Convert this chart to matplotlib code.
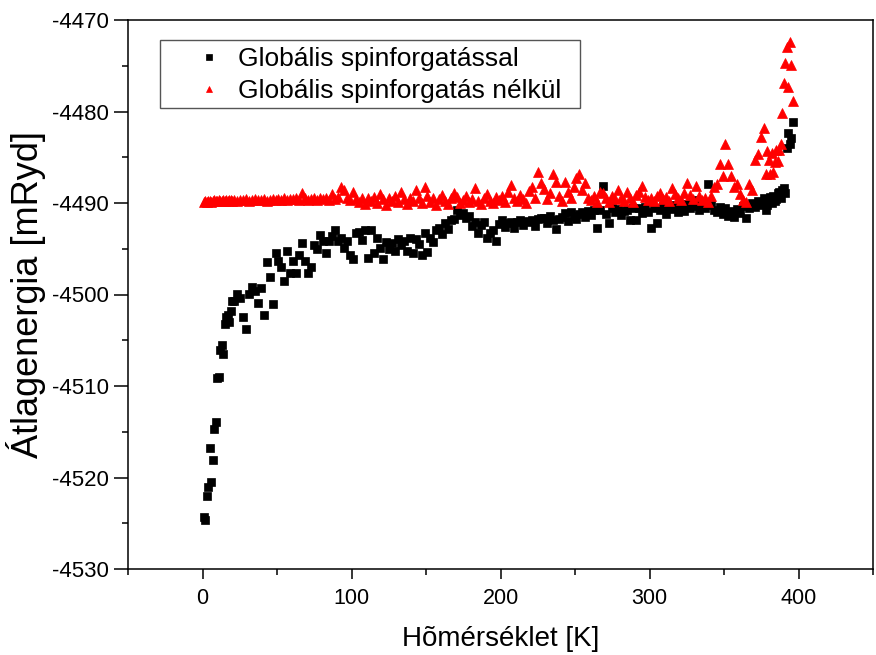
import matplotlib
matplotlib.use("Agg")
import matplotlib.pyplot as plt
from matplotlib.ticker import MultipleLocator
from matplotlib.patches import Rectangle

plt.rcParams['font.family'] = ['Liberation Sans', 'DejaVu Sans']
plt.rcParams['axes.unicode_minus'] = False

# hőmérséklet rácsok: sűrűbb a két szélen
temps_black = list(range(1, 21)) + list(range(21, 378, 2)) + list(range(378, 397))
temps_red = list(range(1, 21)) + list(range(21, 378, 2)) + list(range(378, 397))

e_black = [
    # 1..20
    -4524.3, -4524.6, -4522.0, -4521.0, -4516.8, -4520.5, -4518.1, -4514.7, -4513.9, -4509.1,
    -4509.0, -4506.1, -4505.5, -4506.5, -4503.2, -4502.5, -4502.2, -4503.0, -4501.8, -4500.7,
    # 21..59
    -4500.7, -4499.9, -4500.4, -4502.5, -4503.8, -4499.9, -4499.2, -4499.6, -4500.9, -4499.3,
    -4502.2, -4496.5, -4498.1, -4501.0, -4495.5, -4496.3, -4497.0, -4498.5, -4495.2, -4497.6,
    # 61..99
    -4496.3, -4497.7, -4495.7, -4494.4, -4496.3, -4497.7, -4497.0, -4494.6, -4495.0, -4493.5,
    -4494.2, -4495.5, -4494.1, -4493.6, -4493.0, -4494.2, -4493.8, -4494.9, -4494.1, -4495.7,
    # 101..139
    -4496.1, -4493.3, -4493.2, -4494.0, -4493.0, -4496.0, -4492.9, -4495.5, -4493.8, -4494.9,
    -4496.1, -4494.3, -4495.0, -4494.4, -4495.3, -4493.9, -4494.6, -4494.1, -4495.2, -4493.8,
    # 141..179
    -4495.5, -4493.9, -4494.5, -4495.7, -4493.3, -4495.4, -4493.8, -4494.3, -4493.0, -4492.7,
    -4493.4, -4492.2, -4492.8, -4491.9, -4491.7, -4490.8, -4491.3, -4491.1, -4491.6, -4491.4,
    # 181..219
    -4492.5, -4492.1, -4493.3, -4492.4, -4492.1, -4493.8, -4493.3, -4493.0, -4494.1, -4492.3,
    -4491.9, -4492.6, -4492.2, -4492.1, -4492.7, -4492.1, -4491.9, -4492.4, -4492.0, -4492.1,
    # 221..259
    -4491.9, -4492.5, -4491.8, -4491.6, -4491.6, -4492.2, -4491.4, -4491.9, -4492.8, -4491.7,
    -4491.5, -4491.1, -4492.0, -4491.0, -4491.4, -4491.7, -4491.2, -4491.0, -4491.5, -4490.9,
    # 261..299
    -4491.3, -4490.8, -4492.7, -4490.8, -4488.1, -4491.2, -4492.2, -4490.6, -4491.0, -4490.7,
    -4491.3, -4490.9, -4490.8, -4491.9, -4490.5, -4491.9, -4490.6, -4491.1, -4490.4, -4491.0,
    # 301..339
    -4492.7, -4490.6, -4492.2, -4490.8, -4490.3, -4491.2, -4490.5, -4490.7, -4490.2, -4491.0,
    -4490.4, -4490.9, -4490.1, -4490.6, -4489.7, -4490.3, -4490.8, -4490.0, -4490.5, -4487.9,
    # 341..377
    -4490.2, -4490.8, -4491.0, -4490.4, -4491.2, -4490.6, -4491.4, -4490.9, -4491.5, -4490.7,
    -4491.1, -4490.3, -4491.6, -4490.5, -4490.0, -4490.4, -4489.8, -4490.2, -4489.5,
    # 378..396
    -4490.8, -4490.2, -4489.6, -4489.3, -4490.0, -4489.2, -4489.8, -4489.6, -4488.9, -4488.8,
    -4489.5, -4488.6, -4488.4, -4488.9, -4484.0, -4482.3, -4483.5, -4482.9, -4481.1,
]

e_red = [
    # 1..20
    -4489.9, -4489.8, -4489.9, -4489.8, -4489.8, -4489.9, -4489.8, -4489.7, -4489.8, -4489.8,
    -4489.7, -4489.8, -4489.8, -4489.7, -4489.8, -4489.7, -4489.8, -4489.7, -4489.7, -4489.8,
    # 21..59
    -4489.7, -4489.8, -4489.7, -4489.7, -4489.6, -4489.8, -4489.7, -4489.6, -4489.7, -4489.7,
    -4489.6, -4489.8, -4489.7, -4489.6, -4489.7, -4489.6, -4489.7, -4489.5, -4489.7, -4489.6,
    # 61..99
    -4489.6, -4489.5, -4489.7, -4488.9, -4489.5, -4489.7, -4489.6, -4489.4, -4489.7, -4489.5,
    -4489.6, -4489.4, -4489.7, -4489.0, -4489.6, -4489.3, -4488.2, -4488.6, -4489.5, -4489.7,
    # 101..139
    -4488.8, -4489.6, -4489.9, -4489.4, -4490.1, -4489.5, -4489.8, -4489.3, -4490.0, -4489.0,
    -4489.6, -4490.2, -4489.5, -4489.8, -4489.2, -4489.9, -4488.8, -4489.6, -4490.1, -4489.4,
    # 141..179
    -4489.8, -4488.6, -4489.5, -4490.0, -4488.3, -4489.2, -4489.9, -4489.4, -4490.2, -4489.6,
    -4489.1, -4489.8, -4490.1, -4489.5, -4488.9, -4489.3, -4490.0, -4489.7, -4489.2, -4489.9,
    # 181..219
    -4489.6, -4488.4, -4489.8, -4490.1, -4489.5, -4489.0, -4489.8, -4490.0, -4489.3, -4489.7,
    -4489.2, -4489.9, -4488.8, -4488.0, -4489.5, -4489.8, -4489.1, -4489.6, -4490.0, -4488.7,
    # 221..259
    -4488.3, -4489.4, -4486.6, -4487.8, -4488.5, -4489.6, -4488.9, -4486.8, -4487.7, -4489.2,
    -4489.8, -4487.7, -4488.8, -4489.5, -4488.3, -4487.3, -4486.8, -4488.6, -4487.8, -4489.4,
    # 261..299
    -4489.7, -4489.2, -4489.9, -4488.8, -4488.9, -4489.5, -4489.9, -4489.2, -4489.6, -4488.6,
    -4489.4, -4489.8, -4488.8, -4489.5, -4489.9, -4489.1, -4488.8, -4488.1, -4489.3, -4489.7,
    # 301..339
    -4489.4, -4489.8, -4489.2, -4488.9, -4489.6, -4489.3, -4489.8, -4488.4, -4489.0, -4489.5,
    -4489.7, -4488.9, -4487.8, -4489.1, -4489.6, -4488.1, -4489.2, -4489.7, -4489.4, -4489.9,
    # 341..377
    -4489.2, -4488.3, -4487.9, -4485.7, -4487.0, -4483.5, -4485.7, -4487.0, -4488.3, -4487.9,
    -4489.0, -4489.7, -4489.9, -4487.9, -4488.6, -4485.3, -4484.6, -4482.8, -4481.8,
    # 378..396
    -4486.8, -4484.3, -4485.3, -4486.8, -4484.5, -4486.6, -4485.5, -4484.2, -4485.4, -4484.2,
    -4483.5, -4480.2, -4476.9, -4474.7, -4472.9, -4477.3, -4472.4, -4474.9, -4478.8,
]

W, H = 876, 655
fig = plt.figure(figsize=(W / 100, H / 100), dpi=100)
ax = fig.add_axes([128 / W, 1 - 569 / H, 745 / W, 549 / H])

ax.plot(temps_black, e_black, ls='none', marker='s', ms=5.5, mew=0.5, color='black',
        label='Globális spinforgatással')
ax.plot(temps_red, e_red, ls='none', marker='^', ms=6.5, mew=0.5, color='red',
        label='Globális spinforgatás nélkül')

ax.set_xlim(-50, 450)
ax.set_ylim(-4530, -4470)
ax.xaxis.set_major_locator(MultipleLocator(100))
ax.xaxis.set_minor_locator(MultipleLocator(50))
ax.yaxis.set_major_locator(MultipleLocator(10))
ax.yaxis.set_minor_locator(MultipleLocator(5))
ax.tick_params(which='both', direction='out', width=1.1)
ax.tick_params(axis='x', which='major', length=7, pad=7, labelsize=15.5)
ax.tick_params(axis='x', which='minor', length=4)
ax.tick_params(axis='y', which='major', length=10, pad=4, labelsize=16)
ax.tick_params(axis='y', which='minor', length=4.5)
for s in ax.spines.values():
    s.set_linewidth(1.1)

ax.set_xlabel('Hõmérséklet [K]', fontsize=20, labelpad=12)
ax.set_ylabel('Átlagenergia [mRyd]', fontsize=26, labelpad=4)

# jelmagyarázat kerete külön rajzolva
ax.add_patch(Rectangle((160 / W, 1 - 108 / H), 420 / W, 68 / H, transform=fig.transFigure,
                       facecolor='white', edgecolor='#555555', lw=1.0, zorder=3))
leg = ax.legend(loc='upper left', bbox_to_anchor=(194 / W, 1 - 47 / H),
                bbox_transform=fig.transFigure, fontsize=19, frameon=False,
                markerscale=0.7, borderpad=0, borderaxespad=0,
                handlelength=1.15, handletextpad=0.5, labelspacing=0.3)
leg.set_zorder(4)

fig.savefig('out.png', dpi=100)
